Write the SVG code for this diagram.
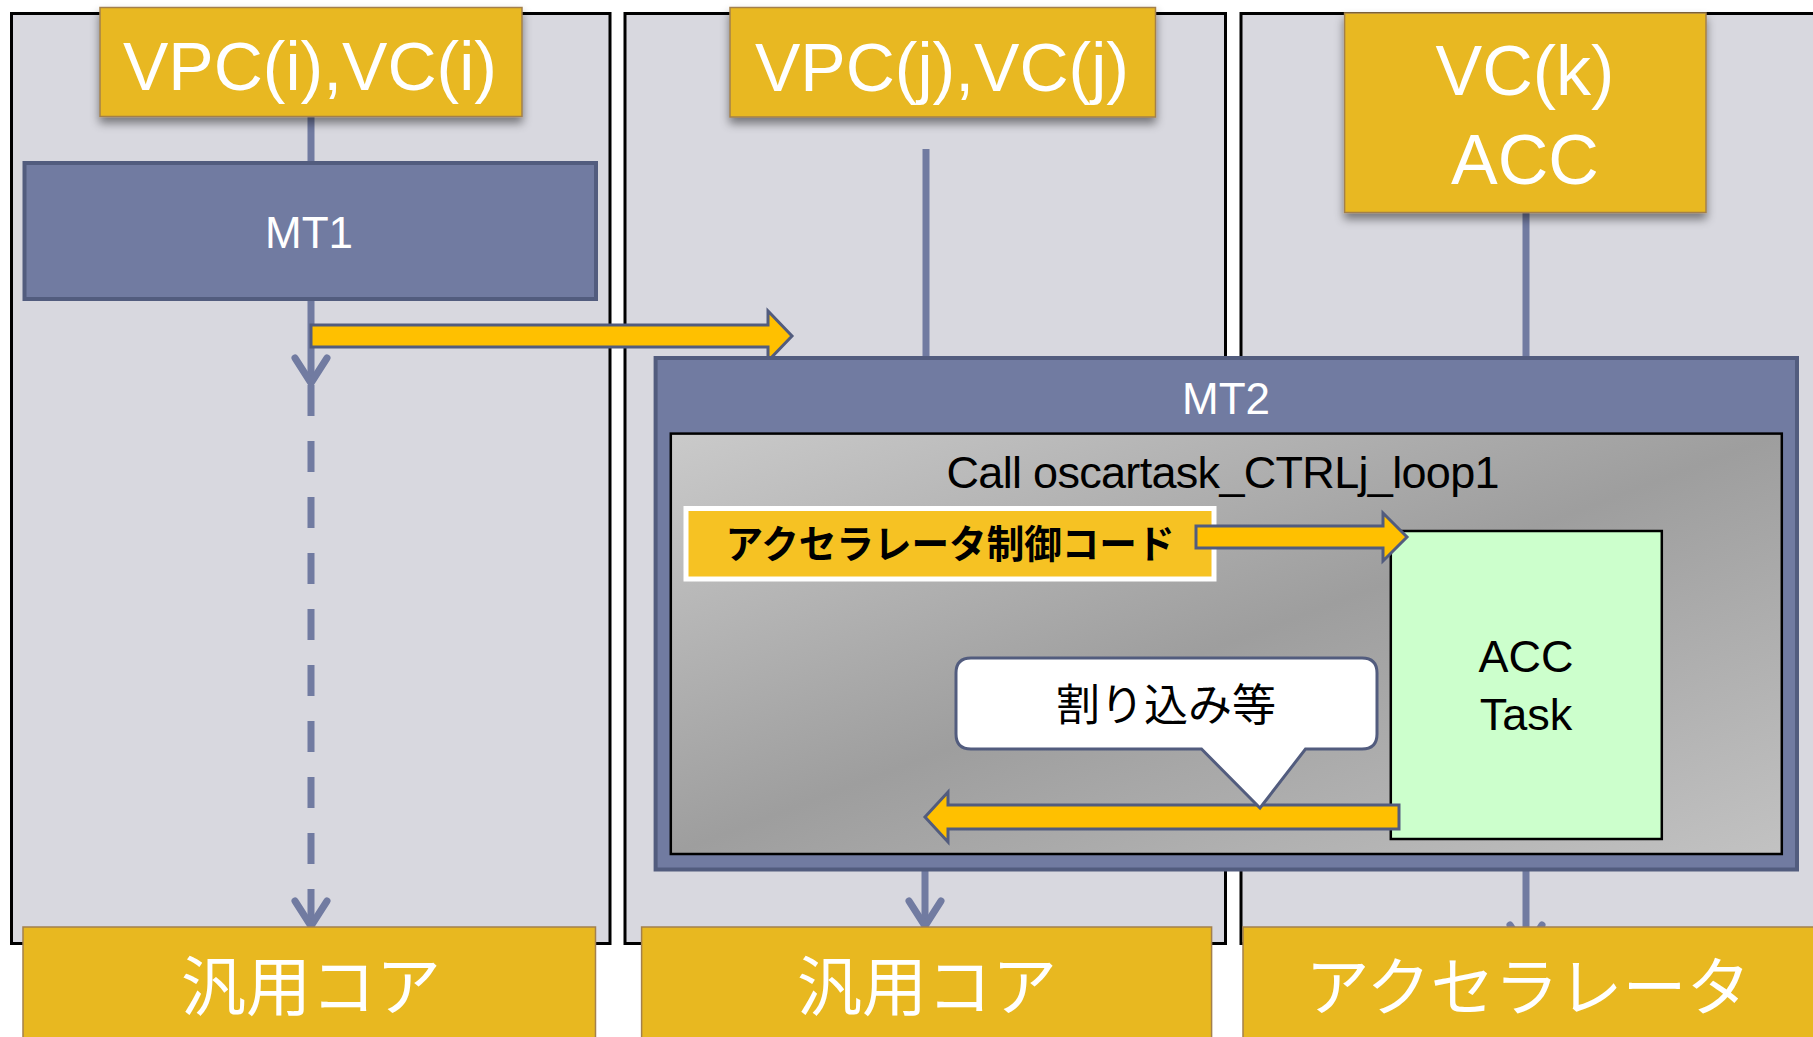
<svg xmlns="http://www.w3.org/2000/svg" width="1813" height="1037" viewBox="0 0 1813 1037">
<defs>
<style>
.lane{fill:#d8d8df;stroke:#000;stroke-width:3}
.gold{fill:#e8b820;stroke:#a3804c;stroke-width:1.5}
.tw{fill:#fff;font-family:"Liberation Sans",Arial,sans-serif;text-anchor:middle}
.tb{fill:#000;font-family:"Liberation Sans",Arial,sans-serif;text-anchor:middle}
.jw{fill:#fff;font-family:"Noto Sans CJK JP",sans-serif;text-anchor:middle}
.jb{fill:#000;font-family:"Noto Sans CJK JP",sans-serif;text-anchor:middle}
.mt{fill:#717ba1;stroke:#525c7e;stroke-width:4}
.ln{fill:none;stroke:#717ba1;stroke-width:7}
.ya{fill:#ffc000;stroke:#525c7e;stroke-width:3;stroke-linejoin:miter}
</style>
<marker id="chev" markerUnits="userSpaceOnUse" viewBox="-32 -22 38 44" markerWidth="38" markerHeight="44" refX="0" refY="0" orient="auto" overflow="visible">
<path d="M -25 -16 L 0 0 L -25 16" fill="none" stroke="#717ba1" stroke-width="7" stroke-linecap="round" stroke-linejoin="round"/>
</marker>
<filter id="sh" x="-10%" y="-20%" width="120%" height="150%">
<feDropShadow dx="0" dy="6" stdDeviation="5" flood-color="#000" flood-opacity="0.45"/>
</filter>
<linearGradient id="gg" x1="0" y1="0" x2="1" y2="1">
<stop offset="0" stop-color="#cacaca"/>
<stop offset="0.5" stop-color="#9e9e9e"/>
<stop offset="1" stop-color="#c2c2c2"/>
</linearGradient>
</defs>

<g id="lanes">
<rect id="lane1" class="lane" x="11.5" y="13.5" width="598.5" height="930"/>
<rect id="lane2" class="lane" x="625" y="13.5" width="600.5" height="930"/>
<rect id="lane3" class="lane" x="1241" y="13.5" width="620" height="930"/>
</g>

<g id="connectors">
<line class="ln" x1="311" y1="117" x2="311" y2="163"/>
<line class="ln" x1="311" y1="299" x2="311" y2="383" marker-end="url(#chev)"/>
<line class="ln" x1="311" y1="385" x2="311" y2="926" stroke-dasharray="31 25" marker-end="url(#chev)"/>
<line class="ln" x1="926" y1="149" x2="926" y2="358"/>
<line class="ln" x1="925" y1="870" x2="925" y2="926" marker-end="url(#chev)"/>
<line class="ln" x1="1526" y1="213" x2="1526" y2="358"/>
<line class="ln" x1="1526" y1="870" x2="1526" y2="950" marker-end="url(#chev)"/>
<polygon id="arrow-mt1-mt2" class="ya" points="311,325 768,325 768,311 792,336 768,361 768,347 311,347"/>
</g>

<g id="top-i">
<rect class="gold" x="100" y="7.5" width="422" height="109" filter="url(#sh)"/>
<text class="tw" x="310" y="90" font-size="68">VPC(i),VC(i)</text>
</g>
<g id="top-j">
<rect class="gold" x="730" y="7.5" width="425.5" height="109.5" filter="url(#sh)"/>
<text class="tw" x="942" y="90.5" font-size="68">VPC(j),VC(j)</text>
</g>
<g id="top-k">
<rect class="gold" x="1344.6" y="13" width="361.4" height="199.5" filter="url(#sh)"/>
<text class="tw" x="1525" y="95" font-size="70">VC(k)</text>
<text class="tw" x="1525" y="184" font-size="70">ACC</text>
</g>

<g id="mt1">
<rect class="mt" x="24.5" y="163" width="571.5" height="136"/>
<text class="tw" x="309" y="248" font-size="44">MT1</text>
</g>

<g id="mt2">
<rect class="mt" x="655.6" y="358" width="1141.4" height="511.5"/>
<text class="tw" x="1226" y="414" font-size="44">MT2</text>
<rect x="670.8" y="433.6" width="1111" height="420.4" fill="url(#gg)" stroke="#000" stroke-width="2.5"/>
<text class="tb" x="1223" y="488" font-size="45" textLength="553" lengthAdjust="spacing">Call oscartask_CTRLj_loop1</text>
</g>

<g id="ctrl-code">
<rect x="686" y="508.5" width="528" height="70.5" fill="#f6c223" stroke="#fff" stroke-width="5"/>
<text class="jb" x="950" y="558" font-size="39" font-weight="700" textLength="449" lengthAdjust="spacingAndGlyphs">アクセラレータ制御コード</text>
</g>

<g id="acc-task">
<rect x="1390.8" y="531" width="271" height="308" fill="#ccffcc" stroke="#000" stroke-width="2.5"/>
<text class="tb" x="1526" y="672" font-size="45">ACC</text>
<text class="tb" x="1526" y="730" font-size="45">Task</text>
</g>

<g id="connectors-inner">
<polygon id="arrow-ctrl-acc" class="ya" points="1196,526 1383,526 1383,513 1407,537 1383,561 1383,548 1196,548"/>
<polygon id="arrow-acc-back" class="ya" points="1399,805 948,805 948,792 925,817 948,842 948,829 1399,829"/>
</g>

<g id="callout">
<path d="M 971 658 H 1362 Q 1377 658 1377 673 V 734 Q 1377 749 1362 749 H 1305.5 L 1260 808 L 1201.5 749 H 971 Q 956 749 956 734 V 673 Q 956 658 971 658 Z" fill="#fff" stroke="#525c7e" stroke-width="3"/>
<text class="jb" x="1166" y="721" font-size="44">割り込み等</text>
</g>

<g id="core1">
<rect class="gold" x="23" y="927" width="572.5" height="120"/>
<text class="jw" x="311" y="1010" font-size="65">汎用コア</text>
</g>
<g id="core2">
<rect class="gold" x="641.6" y="927" width="570" height="120"/>
<text class="jw" x="927" y="1010" font-size="65">汎用コア</text>
</g>
<g id="accel">
<rect class="gold" x="1243" y="927" width="580" height="120"/>
<text class="jw" x="1528" y="1010" font-size="64">アクセラレータ</text>
</g>
</svg>
